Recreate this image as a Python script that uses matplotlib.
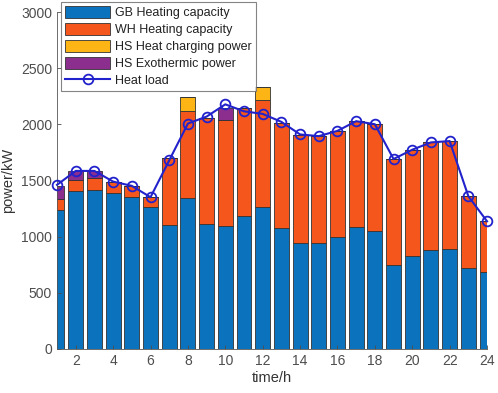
import numpy as np
import matplotlib
matplotlib.use("Agg")
import matplotlib.pyplot as plt

plt.rcParams['font.family'] = ['Liberation Sans', 'DejaVu Sans']

hours = np.arange(1, 25)
gb_heat = [1234, 1403, 1417, 1388, 1358, 1267, 1101, 1344, 1116, 1093, 1181, 1264,
           1078, 948, 948, 995, 1084, 1054, 747, 824, 886, 895, 720, 685]
wh_heat = [104, 100, 104, 103, 95, 85, 603, 773, 945, 950, 966, 951,
           939, 957, 948, 945, 945, 948, 945, 951, 954, 957, 641, 452]
hs_charge = [0, 0, 0, 0, 0, 0, 0, 127, 0, 0, 0, 118,
             0, 0, 0, 0, 0, 0, 0, 0, 0, 0, 0, 0]
hs_exo = [118, 83, 65, 0, 0, 0, 0, 0, 0, 104, 0, 0,
          0, 0, 0, 0, 0, 0, 0, 0, 0, 0, 0, 0]
heat_load = [1462, 1586, 1586, 1491, 1453, 1352, 1680, 2008, 2070, 2179, 2117, 2094,
             2023, 1911, 1896, 1943, 2029, 2002, 1692, 1775, 1840, 1852, 1361, 1137]

series = [
    (gb_heat, '#0B72BD', 'GB Heating capacity'),
    (wh_heat, '#F4561C', 'WH Heating capacity'),
    (hs_charge, '#FDB515', 'HS Heat charging power'),
    (hs_exo, '#8B2E8E', 'HS Exothermic power'),
]

fig = plt.figure(figsize=(4.98, 3.93), dpi=100)
ax = fig.add_axes([0.1145, 0.112, 0.8635, 0.857])

handles = []
bottom = np.zeros(len(hours))
for vals, col, lab in series:
    vals = np.array(vals, dtype=float)
    b = ax.bar(hours, vals, width=0.8, bottom=bottom, color=col, edgecolor='#333333',
               linewidth=0.6, label=lab)
    handles.append(b)
    bottom += vals

ln, = ax.plot(hours, heat_load, color='#2222CC', linewidth=1.5, marker='o', markersize=7,
              markerfacecolor='none', markeredgewidth=1.3, label='Heat load', clip_on=False,
              zorder=5)
handles.append(ln)

ax.set_xlim(1, 24)
ax.set_ylim(0, 3000)
ax.set_xticks(np.arange(2, 25, 2))
ax.set_yticks(np.arange(0, 3001, 500))
ax.tick_params(direction='in', labelsize=10, colors='#4d4d4d', length=3, width=0.6)
for s in ['top', 'right']:
    ax.spines[s].set_visible(False)
for s in ['left', 'bottom']:
    ax.spines[s].set_color('#555555')
    ax.spines[s].set_linewidth(0.6)

ax.set_xlabel('time/h', fontsize=10.5, color='#333333', labelpad=2)
ax.set_ylabel('power/kW', fontsize=10.5, color='#333333', labelpad=4)

leg = ax.legend(handles=handles, loc='upper left', bbox_to_anchor=(0.01, 1.03), fontsize=9,
                frameon=True, fancybox=False, edgecolor='#666666',
                handlelength=3.6, handleheight=1.1, labelspacing=0.3,
                borderpad=0.3, handletextpad=0.4, borderaxespad=0)
leg.get_frame().set_linewidth(0.8)
for t in leg.get_texts():
    t.set_color('#222222')

fig.savefig('out.png', dpi=100)
